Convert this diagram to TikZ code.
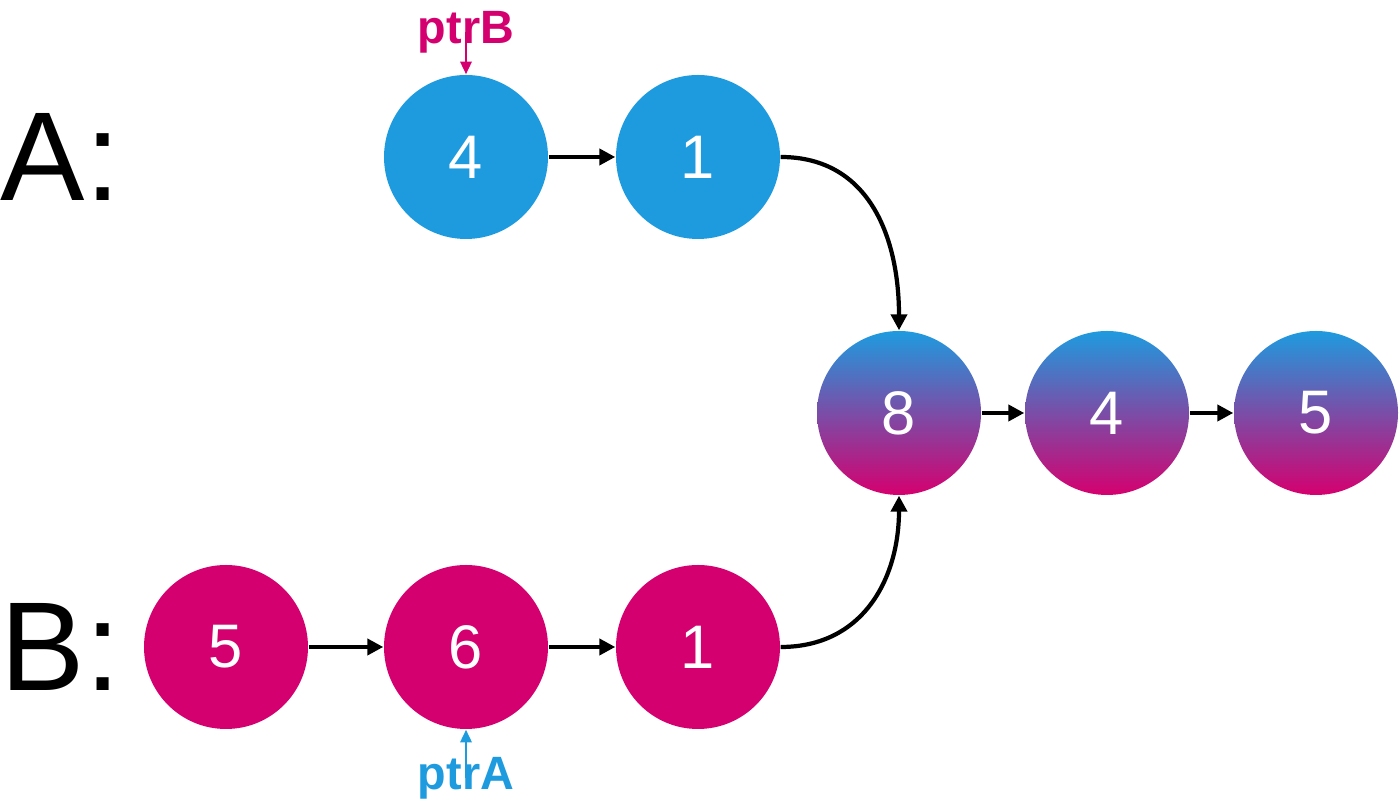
\documentclass[tikz,border=0pt]{standalone}
\usepackage{fontspec}
\setmainfont{Liberation Sans}
\usepackage{tikz}
\usetikzlibrary{arrows.meta}
\definecolor{listblue}{RGB}{30,155,223}
\definecolor{listpink}{RGB}{213,0,111}
\tikzset{
	lnode/.style={circle, minimum size=1.64cm, inner sep=0pt, text=white, font=\fontsize{17.5}{17.5}\selectfont},
	anode/.style={lnode, fill=listblue},
	bnode/.style={lnode, fill=listpink},
	cnode/.style={lnode, top color=listblue, bottom color=listpink},
	link/.style={-{Triangle[length=4.5pt,width=4.5pt]}, line width=1.2pt, black},
	ptr/.style={-{Triangle[length=3.6pt,width=3.2pt]}, line width=0.7pt},
	ptrlabel/.style={font=\fontsize{13.3}{13.3}\selectfont\bfseries},
	listname/.style={inner sep=0pt, font=\fontsize{36}{36}\selectfont}
}
\begin{document}
\begin{tikzpicture}
				\useasboundingbox (0,0) rectangle (14,8.06);
				% list labels
				\node[listname, anchor=west] (labA) at (0,6.49) {A:};
				\node[listname, anchor=west] (labB) at (0,1.59) {B:};
				% list A
				\node[anode] (a1) at (4.66,6.49) {4};
				\node[anode] (a2) at (6.98,6.49) {1};
				% shared tail
				\node[cnode] (c1) at (8.99,3.93) {8};
				\node[cnode] (c2) at (11.07,3.93) {4};
				\node[cnode] (c3) at (13.16,3.93) {5};
				% list B
				\node[bnode] (b1) at (2.26,1.59) {5};
				\node[bnode] (b2) at (4.66,1.59) {6};
				\node[bnode] (b3) at (6.98,1.59) {1};
				% links
				\draw[link] (a1) -- (a2);
				\draw[link] (a2.east) to[out=0, in=90, looseness=1.1] (c1.north);
				\draw[link] (b1) -- (b2);
				\draw[link] (b2) -- (b3);
				\draw[link] (b3.east) to[out=0, in=-90, looseness=1.1] (c1.south);
				\draw[link] (c1) -- (c2);
				\draw[link] (c2) -- (c3);
				% pointers
				\node[ptrlabel, text=listpink] (pb) at (4.66,7.74) {ptrB};
				\node[ptrlabel, text=listblue] (pa) at (4.66,0.28) {ptrA};
				\draw[ptr, listpink] (pb.center) -- (a1.north);
				\draw[ptr, listblue] (pa.center) -- (b2.south);
			\end{tikzpicture}
\end{document}
